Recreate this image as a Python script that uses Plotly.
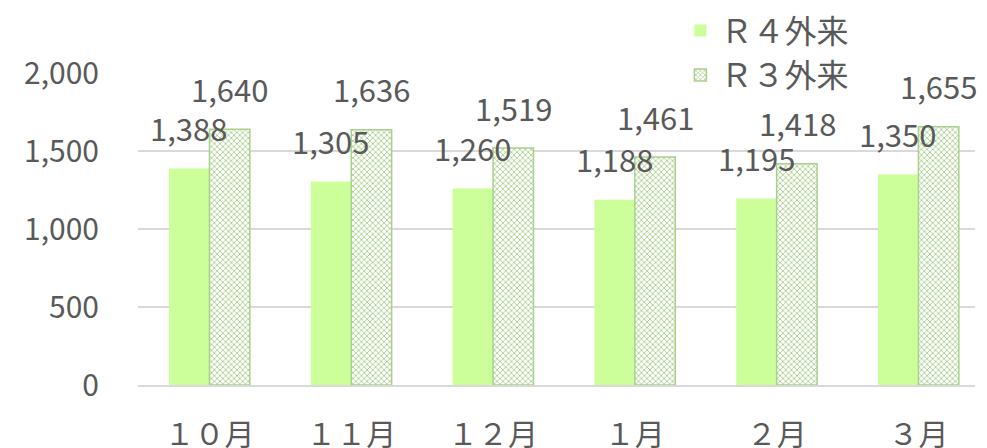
import plotly.graph_objects as go

categories = ["１０月", "１１月", "１２月", "１月", "２月", "３月"]
r4_values = [1388, 1305, 1260, 1188, 1195, 1350]
r3_values = [1640, 1636, 1519, 1461, 1418, 1655]
series_names = ["Ｒ４外来", "Ｒ３外来"]
y_ticks = [0, 500, 1000, 1500, 2000]

FONT = "Noto Sans CJK JP"
TXT = "#595959"

fig = go.Figure()
fig.add_trace(go.Bar(
    x=categories, y=r4_values, name=series_names[0],
    marker=dict(color="#ccff99", line=dict(width=0)),
))
fig.add_trace(go.Bar(
    x=categories, y=r3_values, name=series_names[1],
    marker=dict(color="#ffffff",
                line=dict(color="#a9d18e", width=1.5),
                pattern=dict(shape="x", fgcolor="#a9d18e", bgcolor="#ffffff",
                             size=4, solidity=0.4, fillmode="replace")),
))

# data labels
for i, c in enumerate(categories):
    for vals, xs in ((r4_values, -20.5), (r3_values, 20.5)):
        fig.add_annotation(x=c, y=vals[i], xref="x", yref="y",
                           text=f"{vals[i]:,}", showarrow=False,
                           xshift=xs, yshift=41, yanchor="middle",
                           font=dict(family=FONT, size=31, color=TXT))

# page body has an 8px margin, so the figure is sized/offset to compensate
fig.update_layout(
    width=979, height=440,
    margin=dict(l=130, r=12, t=65, b=63, autoexpand=False),
    paper_bgcolor="white", plot_bgcolor="white",
    barmode="group", bargap=0.43, bargroupgap=0,
    font=dict(family=FONT, size=30, color=TXT),
    showlegend=True,
    legend=dict(x=0.648, y=1.224, xanchor="left", yanchor="top",
                bgcolor="white", font=dict(family=FONT, size=32, color=TXT),
                itemwidth=30, tracegroupgap=0),
    xaxis=dict(showgrid=False, showline=True, linecolor="#d9d9d9", linewidth=1.5,
               range=[-0.504, 5.399],
               ticks="", ticklabelstandoff=22, automargin=False,
               tickfont=dict(family=FONT, size=30, color=TXT)),
    yaxis=dict(range=[0, 2000], tickvals=y_ticks, tickformat=",",
               showgrid=True, gridcolor="#d9d9d9", gridwidth=1.5,
               zeroline=False, showline=False, ticks="", ticklabelstandoff=38,
               automargin=False,
               tickfont=dict(family=FONT, size=30, color=TXT)),
)

fig.write_html("out.html")
